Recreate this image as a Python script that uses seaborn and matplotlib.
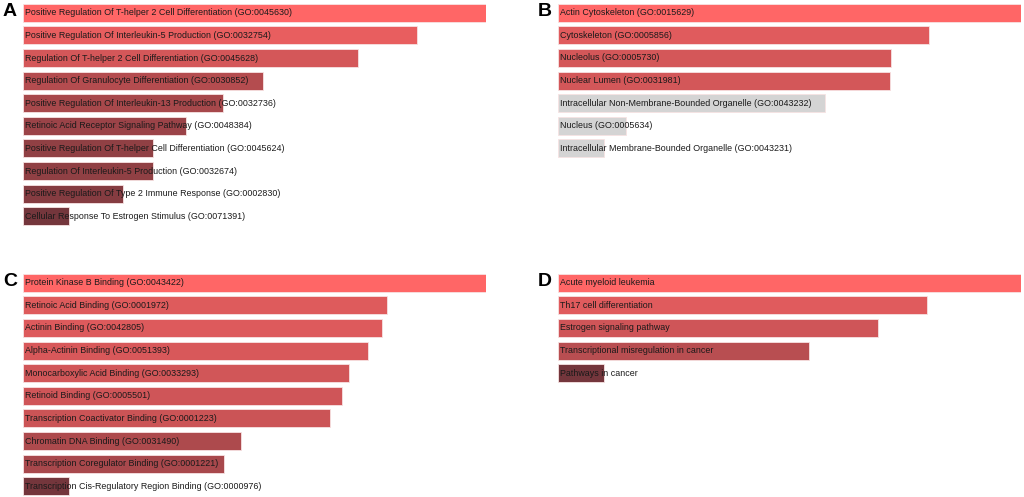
import numpy as np
import seaborn as sns
import matplotlib.pyplot as plt
from matplotlib.colors import LinearSegmentedColormap, to_hex

# Panel A - GO biological process
terms_a = [
    "Positive Regulation Of T-helper 2 Cell Differentiation (GO:0045630)",
    "Positive Regulation Of Interleukin-5 Production (GO:0032754)",
    "Regulation Of T-helper 2 Cell Differentiation (GO:0045628)",
    "Regulation Of Granulocyte Differentiation (GO:0030852)",
    "Positive Regulation Of Interleukin-13 Production (GO:0032736)",
    "Retinoic Acid Receptor Signaling Pathway (GO:0048384)",
    "Positive Regulation Of T-helper Cell Differentiation (GO:0045624)",
    "Regulation Of Interleukin-5 Production (GO:0032674)",
    "Positive Regulation Of Type 2 Immune Response (GO:0002830)",
    "Cellular Response To Estrogen Stimulus (GO:0071391)",
]
scores_a = [463, 394, 335, 240, 200, 163, 130, 130, 100, 46]
signif_a = [True] * 10

# Panel B - GO cellular component
terms_b = [
    "Actin Cytoskeleton (GO:0015629)",
    "Cytoskeleton (GO:0005856)",
    "Nucleolus (GO:0005730)",
    "Nuclear Lumen (GO:0031981)",
    "Intracellular Non-Membrane-Bounded Organelle (GO:0043232)",
    "Nucleus (GO:0005634)",
    "Intracellular Membrane-Bounded Organelle (GO:0043231)",
]
scores_b = [464, 372, 334, 333, 268, 68, 46]
signif_b = [True, True, True, True, False, False, False]

# Panel C - GO molecular function
terms_c = [
    "Protein Kinase B Binding (GO:0043422)",
    "Retinoic Acid Binding (GO:0001972)",
    "Actinin Binding (GO:0042805)",
    "Alpha-Actinin Binding (GO:0051393)",
    "Monocarboxylic Acid Binding (GO:0033293)",
    "Retinoid Binding (GO:0005501)",
    "Transcription Coactivator Binding (GO:0001223)",
    "Chromatin DNA Binding (GO:0031490)",
    "Transcription Coregulator Binding (GO:0001221)",
    "Transcription Cis-Regulatory Region Binding (GO:0000976)",
]
scores_c = [463, 364, 359, 345, 326, 319, 307, 218, 201, 46]
signif_c = [True] * 10

# Panel D - KEGG pathways
terms_d = [
    "Acute myeloid leukemia",
    "Th17 cell differentiation",
    "Estrogen signaling pathway",
    "Transcriptional misregulation in cancer",
    "Pathways in cancer",
]
scores_d = [462, 368, 319, 250, 46]
signif_d = [True] * 5

W, H = 1024, 497
PITCH = 22.6
cmap = LinearSegmentedColormap.from_list("enr", ["#74363c", "#ff6666"])


def bar_colors(scores, signif):
    mx = max(scores)
    cols = []
    for v, s in zip(scores, signif):
        if not s:
            cols.append("#d4d4d4")
        else:
            t = (v / mx - 0.1) / 0.9
            cols.append(to_hex(cmap(np.clip(t, 0, 1))))
    return cols


def panel(fig, left_px, top_px, terms, scores, signif, letter):
    n = len(terms)
    ax = fig.add_axes([left_px / W, 1 - (top_px + n * PITCH) / H,
                       463 / W, n * PITCH / H])
    sns.barplot(x=scores, y=terms, hue=terms, palette=bar_colors(scores, signif),
                legend=False, width=0.8, saturation=1, edgecolor="#f7e2e2",
                linewidth=0.6, ax=ax)
    ax.set_xlim(0, max(scores))
    ax.set_ylim(n - 0.5, -0.5)
    for i, t in enumerate(terms):
        ax.text(max(scores) * 0.005, i, t, va="center", ha="left", fontsize=6.4,
                color="#1a1a1a", family=["Liberation Sans Narrow", "Liberation Sans", "DejaVu Sans"])
    ax.axis("off")
    fig.text((left_px - 20) / W, 1 - (top_px + 10) / H, letter, fontsize=14,
             fontweight="bold", ha="left", va="center", color="black",
             family=["Liberation Sans", "DejaVu Sans"])
    return ax


sns.set_theme(style="white")
fig = plt.figure(figsize=(W / 100, H / 100), dpi=100)

panel(fig, 23, 1.5, terms_a, scores_a, signif_a, "A")
panel(fig, 558, 1.5, terms_b, scores_b, signif_b, "B")
panel(fig, 23, 271.5, terms_c, scores_c, signif_c, "C")
panel(fig, 558, 271.5, terms_d, scores_d, signif_d, "D")

fig.savefig("out.png", dpi=100, facecolor="white")
